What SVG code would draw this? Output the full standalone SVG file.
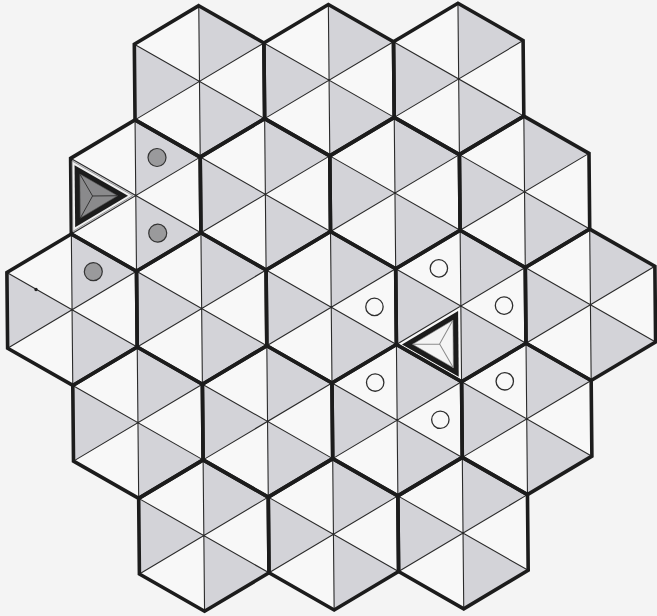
<svg xmlns="http://www.w3.org/2000/svg" xmlns:xlink="http://www.w3.org/1999/xlink" width="657" height="616" viewBox="0 0 657 616">
  <style>
    .bg { fill: #f8f8f8; }
    .s { fill: #d3d3d8; }
    .thin { fill: none; stroke: #2a2a2a; stroke-width: 1.1; }
    .thick { fill: none; stroke: #1c1c1c; stroke-width: 3.6; stroke-linejoin: miter; }
    .gc { fill: #9a9a9c; stroke: #333; stroke-width: 1.2; }
    .wc { fill: #f8f8f8; stroke: #2e2e2e; stroke-width: 1.3; }
  </style>
  <defs>
    <g id="hexcell">
      <polygon class="bg" points="0,-75.7 64.8,-37.85 64.8,37.85 0,75.7 -64.8,37.85 -64.8,-37.85"/>
      <polygon class="s" points="0,0 0,-75.7 64.8,-37.85"/>
      <polygon class="s" points="0,0 64.8,37.85 0,75.7"/>
      <polygon class="s" points="0,0 -64.8,-37.85 -64.8,37.85"/>
      <path class="thin" d="M0,-75.7V75.7M64.8,-37.85L-64.8,37.85M-64.8,-37.85L64.8,37.85"/>
    </g>
    <polygon id="hexout" class="thick" points="0,-75.7 64.8,-37.85 64.8,37.85 0,75.7 -64.8,37.85 -64.8,-37.85"/>
  </defs>
  <rect width="657" height="616" fill="#f4f4f4"/>
  <g id="board" transform="rotate(-0.55 331.25 307.25)">
    <g id="hexes">
      <g id="hex-r1c1" transform="translate(201.65,80.15)"><use href="#hexcell"/></g>
      <g id="hex-r1c2" transform="translate(331.25,80.15)"><use href="#hexcell"/></g>
      <g id="hex-r1c3" transform="translate(460.85,80.15)"><use href="#hexcell"/></g>
      <g id="hex-r2c1" transform="translate(136.85,193.7)"><use href="#hexcell"/></g>
      <g id="hex-r2c2" transform="translate(266.45,193.7)"><use href="#hexcell"/></g>
      <g id="hex-r2c3" transform="translate(396.05,193.7)"><use href="#hexcell"/></g>
      <g id="hex-r2c4" transform="translate(525.65,193.7)"><use href="#hexcell"/></g>
      <g id="hex-r3c1" transform="translate(72.05,307.25)"><use href="#hexcell"/></g>
      <g id="hex-r3c2" transform="translate(201.65,307.25)"><use href="#hexcell"/></g>
      <g id="hex-r3c3" transform="translate(331.25,307.25)"><use href="#hexcell"/></g>
      <g id="hex-r3c4" transform="translate(460.85,307.25)"><use href="#hexcell"/></g>
      <g id="hex-r3c5" transform="translate(590.45,307.25)"><use href="#hexcell"/></g>
      <g id="hex-r4c1" transform="translate(136.85,420.8)"><use href="#hexcell"/></g>
      <g id="hex-r4c2" transform="translate(266.45,420.8)"><use href="#hexcell"/></g>
      <g id="hex-r4c3" transform="translate(396.05,420.8)"><use href="#hexcell"/></g>
      <g id="hex-r4c4" transform="translate(525.65,420.8)"><use href="#hexcell"/></g>
      <g id="hex-r5c1" transform="translate(201.65,534.35)"><use href="#hexcell"/></g>
      <g id="hex-r5c2" transform="translate(331.25,534.35)"><use href="#hexcell"/></g>
      <g id="hex-r5c3" transform="translate(460.85,534.35)"><use href="#hexcell"/></g>
    </g>
    <g id="outlines">
      <use href="#hexout" x="201.65" y="80.15"/>
      <use href="#hexout" x="331.25" y="80.15"/>
      <use href="#hexout" x="460.85" y="80.15"/>
      <use href="#hexout" x="136.85" y="193.7"/>
      <use href="#hexout" x="266.45" y="193.7"/>
      <use href="#hexout" x="396.05" y="193.7"/>
      <use href="#hexout" x="525.65" y="193.7"/>
      <use href="#hexout" x="72.05" y="307.25"/>
      <use href="#hexout" x="201.65" y="307.25"/>
      <use href="#hexout" x="331.25" y="307.25"/>
      <use href="#hexout" x="460.85" y="307.25"/>
      <use href="#hexout" x="590.45" y="307.25"/>
      <use href="#hexout" x="136.85" y="420.8"/>
      <use href="#hexout" x="266.45" y="420.8"/>
      <use href="#hexout" x="396.05" y="420.8"/>
      <use href="#hexout" x="525.65" y="420.8"/>
      <use href="#hexout" x="201.65" y="534.35"/>
      <use href="#hexout" x="331.25" y="534.35"/>
      <use href="#hexout" x="460.85" y="534.35"/>
    </g>
    <g id="dark-piece" transform="translate(93.65,193.7)">
      <polygon points="40.2,0 -20.1,-35.2 -20.1,35.2" fill="#f0f0f0" stroke="#8a8a8a" stroke-width="0.8"/>
      <polygon points="35.4,0 -17.7,-31 -17.7,31" fill="#1c1c1c"/>
      <polygon points="25,0 -12.5,-22 -12.5,22" fill="#8a8a8c" stroke="#5a5a5a" stroke-width="0.6"/>
      <path d="M0,0L25,0M0,0L-12.5,-22M0,0L-12.5,22" stroke="#2a2a2a" stroke-width="0.9" fill="none"/>
    </g>
    <g id="light-piece" transform="translate(439.25,345.1)">
      <polygon points="-37.6,0 18.8,-32.9 18.8,32.9" fill="#1c1c1c"/>
      <polygon points="-27,0 13.5,-23.7 13.5,23.7" fill="#f4f4f4" stroke="#8a8a8a" stroke-width="0.6"/>
      <path d="M0,0L-27,0M0,0L13.5,-23.7M0,0L13.5,23.7" stroke="#8a8a8a" stroke-width="1" fill="none"/>
    </g>
    <g id="grey-markers">
      <circle class="gc" cx="158.45" cy="155.85" r="9"/>
      <circle class="gc" cx="158.45" cy="231.55" r="9"/>
      <circle class="gc" cx="93.65" cy="269.4" r="9"/>
    </g>
    <g id="white-markers">
      <circle class="wc" cx="439.25" cy="269.4" r="8.7"/>
      <circle class="wc" cx="504.05" cy="307.25" r="8.7"/>
      <circle class="wc" cx="504.05" cy="382.95" r="8.7"/>
      <circle class="wc" cx="439.25" cy="420.8" r="8.7"/>
      <circle class="wc" cx="374.45" cy="382.95" r="8.7"/>
      <circle class="wc" cx="374.45" cy="307.25" r="8.7"/>
    </g>
    <circle cx="36.2" cy="286.6" r="1.7" fill="#222"/>
  </g>
</svg>
